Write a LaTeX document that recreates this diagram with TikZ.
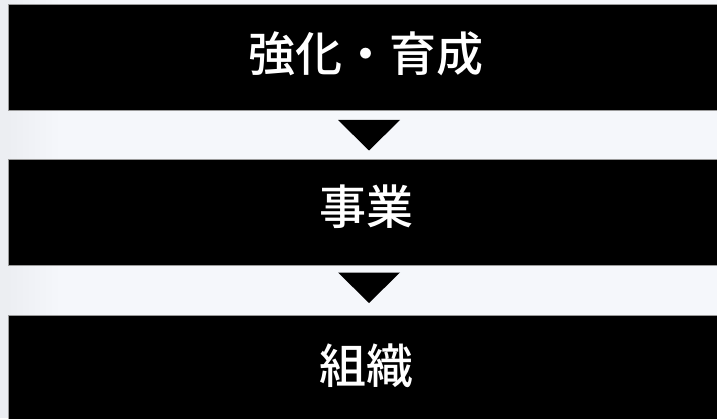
\documentclass[tikz,border=0pt]{standalone}
\usepackage{fontspec}
\newfontfamily\cjk{Noto Sans CJK JP Medium}
\definecolor{bg}{HTML}{F5F7FB}
\definecolor{strip}{HTML}{ECEEF2}
\definecolor{edge}{HTML}{9A9A9A}
\begin{document}
\begin{tikzpicture}[x=1pt,y=1pt,
  stage/.style={fill=black,draw=edge,line width=0.8pt,minimum width=720pt,minimum height=106pt,anchor=north west,inner sep=0pt},
  lbl/.style={text=white,font=\cjk\fontsize{47}{52}\selectfont},
  arrowtri/.style={fill=black,draw=none}]
\useasboundingbox (0,0) rectangle (717,418);
\fill[bg] (0,0) rectangle (717,418);
\shade[left color=strip,right color=bg] (8,0) rectangle (60,418);
\fill[strip] (0,0) rectangle (8,418);
\node[stage] (b1) at (8,414) {};
\node[stage] (b2) at (8,259) {};
\node[stage,minimum height=110pt] (b3) at (8,103) {};
\node[lbl] (t1) at (366,364) {強化・育成};
\node[lbl] (t2) at (366,211.5) {事業};
\node[lbl] (t3) at (366,52) {組織};
\fill[arrowtri] (338,298) -- (400,298) -- (369,267.5) -- cycle;
\fill[arrowtri] (338,145.5) -- (400,145.5) -- (369,115) -- cycle;
\end{tikzpicture}
\end{document}
